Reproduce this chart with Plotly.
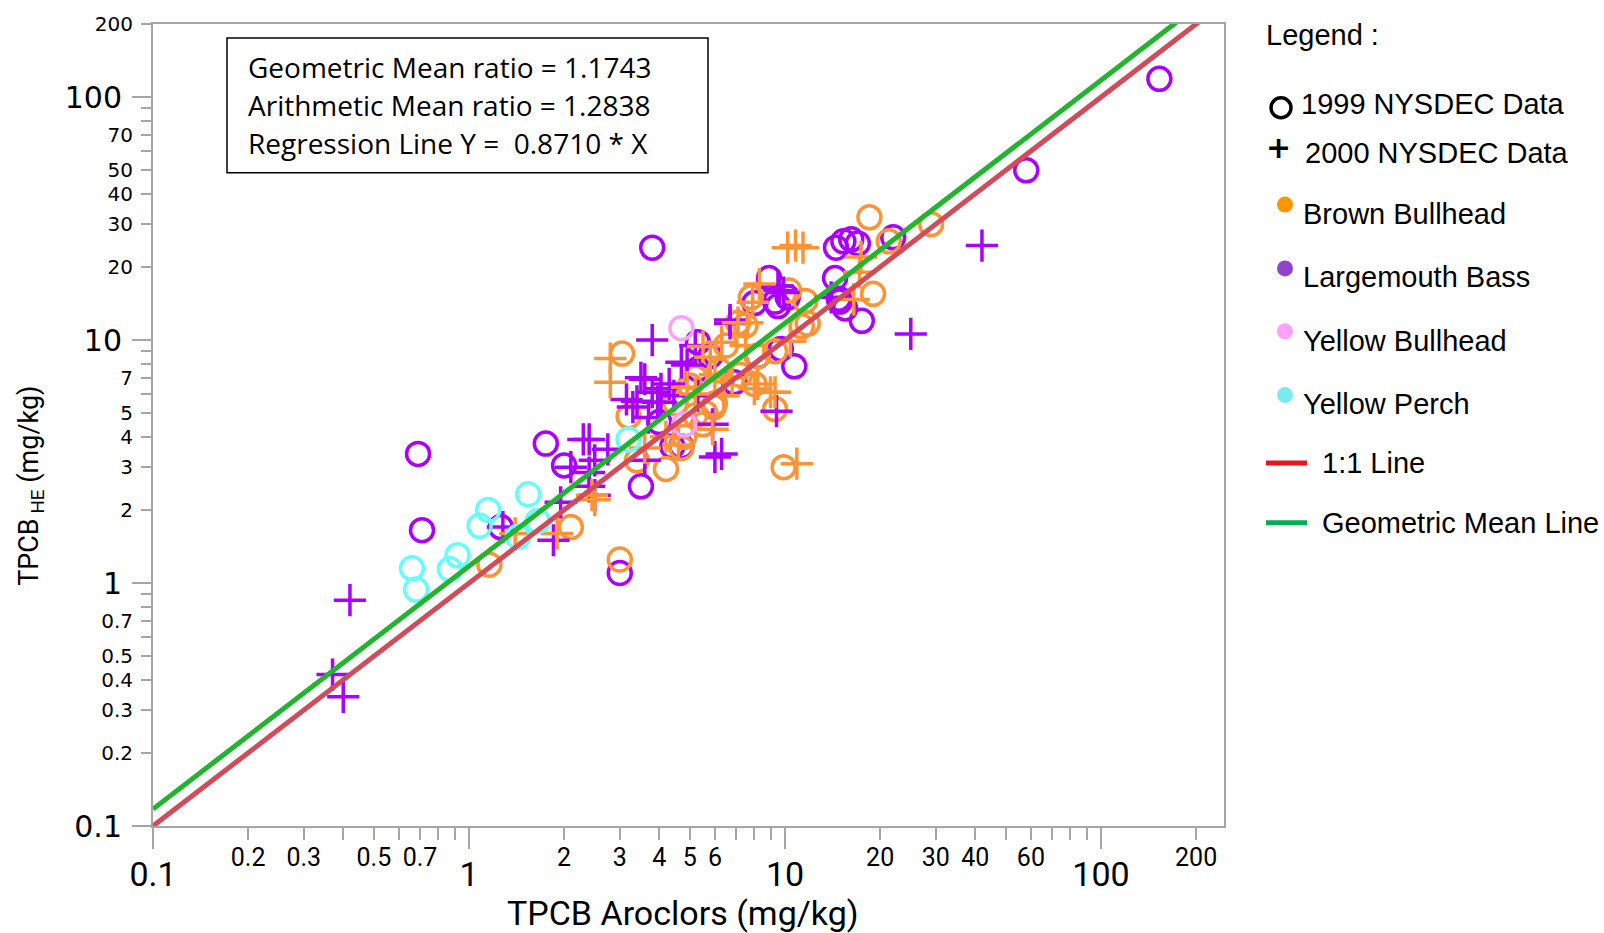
import numpy as np
import plotly.graph_objects as go

# ---------------- data (TPCB Aroclors x, TPCB HE y ; mg/kg) ----------------
bb99_x = [29, 18.5, 19, 11.8, 9.9, 9.3, 3.0, 3.05, 3.2, 3.4, 4.2, 2.1, 1.16, 10.3, 7.8, 7.5, 5.6, 5.95, 11.3, 21.3,
          4.8, 5.2, 7.1, 9.3, 8.0, 8.2, 4.7, 6.2, 11.6, 5.0, 5.5, 6.5, 7.2, 5.2, 4.5, 6.0]
bb99_y = [30, 32, 15.5, 11.7, 3.0, 5.2, 1.25, 8.8, 4.85, 3.2, 2.95, 1.7, 1.19, 16, 15, 11.5, 5.0, 5.3, 11.4, 25.5,
          4.0, 4.9, 11.8, 9.0, 6.6, 8.6, 3.6, 7.5, 14.5, 6.5, 4.5, 9.5, 7.2, 7.0, 5.5, 5.5]

bb00_x = [10.2, 10.8, 11.4, 10.9, 2.8, 2.8, 8.3, 7.9, 5.5, 4.6, 2.45, 1.4, 2.5, 5.9, 7.1, 9.3, 10.4, 6.3, 8.2, 6.4,
          16.5, 17.2, 17.4, 8.0, 7.6, 9.0, 5.2, 6.8, 4.2, 3.6, 1.9, 5.8, 4.9, 7.5, 6.0]
bb00_y = [24, 24.5, 24, 3.1, 8.4, 6.7, 17, 14.3, 9.4, 3.7, 2.3, 1.6, 2.2, 4.3, 11.8, 6.1, 9.9, 9.8, 6.6, 5.9,
          14.7, 19, 22, 6.3, 11.8, 6.1, 6.0, 7.0, 4.0, 3.6, 1.6, 8.5, 6.4, 9.5, 7.2]

lb99_x = [153, 58, 3.8, 0.69, 0.71, 3.0, 3.5, 1.75, 2.0, 1.26, 17.5, 10.7, 22, 14.5, 15.3, 16.2, 17, 14.4, 14.8, 8.9,
          9.3, 10.2, 14.9, 5.3, 9.7, 5.8, 6.9, 4.4, 4.0, 4.7, 5.3, 8.2, 8.0, 9.5, 15.5]
lb99_y = [119, 50, 24, 3.4, 1.65, 1.1, 2.5, 3.75, 3.05, 1.7, 12, 7.8, 26.5, 24, 25.5, 26, 25, 18, 14.8, 18,
          14.4, 15, 14.4, 9.8, 9.2, 8.6, 6.7, 3.65, 4.6, 3.65, 7.6, 8.6, 14.2, 13.8, 13.5]

lb00_x = [42, 25, 0.42, 0.40, 0.37, 3.8, 3.5, 6.3, 9.4, 2.3, 1.85, 2.5, 2.75, 9.6, 14, 6.7, 4.7, 3.8, 4.05, 3.3,
          4.45, 9.9, 5.9, 3.6, 3.4, 3.95, 3.15, 4.05, 4.9, 5.3, 2.5, 3.6, 2.1, 2.4, 2.4, 1.28, 1.95, 2.4, 9.5, 6.7,
          5.2, 6.0, 4.3, 3.7]
lb00_y = [24.5, 10.6, 0.85, 0.34, 0.42, 10, 7, 3.4, 5.1, 3.9, 1.5, 2.3, 3.55, 16, 15, 11.7, 8.1, 6.1, 5.55, 5.3,
          5.9, 15.7, 4.5, 6.9, 5.6, 5.55, 5.7, 6.3, 7.9, 5.9, 3.2, 3.2, 3.0, 2.5, 2.85, 1.7, 2.15, 3.9, 16.7, 12.1,
          9.5, 3.3, 6.6, 4.8]

yb99_x = [4.7, 4.8]
yb99_y = [11.2, 4.5]

yp99_x = [0.66, 0.68, 0.87, 0.92, 1.08, 1.15, 1.43, 1.54, 1.65, 3.2]
yp99_y = [1.15, 0.94, 1.14, 1.3, 1.72, 2.0, 1.55, 2.32, 1.8, 3.9]

geo_mean_ratio = 1.1743
arith_mean_ratio = 1.2838
regression_slope = 0.8710
line_x = [0.1, 250]

x_major = [0.1, 1, 10, 100]
x_major_text = ["0.1", "1", "10", "100"]
x_minor_lab = [0.2, 0.3, 0.5, 0.7, 2, 3, 4, 5, 6, 20, 30, 40, 60, 200]
x_minor_text = ["0.2", "0.3", "0.5", "0.7", "2", "3", "4", "5", "6", "20", "30", "40", "60", "200"]
x_minor_unl = [0.4, 0.6, 0.8, 0.9, 7, 8, 9, 50, 70, 80, 90]

y_major = [0.1, 1, 10, 100]
y_major_text = ["0.1", "1", "10", "100"]
y_minor_lab = [0.2, 0.3, 0.4, 0.5, 0.7, 2, 3, 4, 5, 7, 20, 30, 40, 50, 70, 200]
y_minor_text = ["0.2", "0.3", "0.4", "0.5", "0.7", "2", "3", "4", "5", "7", "20", "30", "40", "50", "70", "200"]
y_minor_unl = [0.6, 0.8, 0.9, 6, 8, 9, 60, 80, 90]

# ---------------- style ----------------
W, H = 1604, 933
ML, MR, MT, MB = 153, 380, 22, 107
PW = W - ML - MR
PH = H - MT - MB
def pxx(p):
    return (p - ML) / PW
def pxy(p):
    return (H - MB - p) / PH

ORANGE = "rgb(255,148,54)"
PURPLE = "rgb(170,0,255)"
PINK = "rgb(255,160,255)"
CYAN = "rgb(102,255,250)"
RED = "rgb(208,76,90)"
GREEN = "rgb(34,180,46)"
GREY = "rgb(166,166,166)"
NARROW = "Roboto, sans-serif"

xr = [-1, np.log10(245)]
yr = [-1, np.log10(200)]

fig = go.Figure()

def add(xs, ys, color, sym):
    if sym == "o":
        m = dict(symbol="circle-open", size=23, color=color, line=dict(width=3.5, color=color))
    else:
        m = dict(symbol="cross-thin-open", size=23, color=color, line=dict(width=3.5, color=color))
    fig.add_trace(go.Scatter(x=xs, y=ys, mode="markers", marker=m, showlegend=False, hoverinfo="x+y"))

add(lb99_x, lb99_y, PURPLE, "o")
add(bb99_x, bb99_y, ORANGE, "o")
add(lb00_x, lb00_y, PURPLE, "+")
add(bb00_x, bb00_y, ORANGE, "+")
add(yb99_x, yb99_y, PINK, "o")
add(yp99_x, yp99_y, CYAN, "o")

lx = np.array(line_x)
fig.add_trace(go.Scatter(x=lx, y=lx, mode="lines", line=dict(color=RED, width=5),
                         xaxis="x2", yaxis="y2", showlegend=False))
fig.add_trace(go.Scatter(x=lx, y=geo_mean_ratio * lx, mode="lines", line=dict(color=GREEN, width=5),
                         xaxis="x2", yaxis="y2", showlegend=False))

common = dict(type="log", showgrid=False, zeroline=False, ticks="outside", tickwidth=2, tickcolor=GREY)

fig.update_layout(
    width=W, height=H,
    margin=dict(l=ML, r=MR, t=MT, b=MB),
    paper_bgcolor="white", plot_bgcolor="white",
    xaxis=dict(**common, range=xr, tickmode="array", tickvals=x_minor_lab, ticktext=x_minor_text,
               ticklen=12, ticklabelstandoff=-4,
               tickfont=dict(family=NARROW, size=25, color="black"),
               minor=dict(tickmode="array", tickvals=x_minor_unl, ticks="outside", ticklen=12, tickwidth=2,
                          tickcolor=GREY, showgrid=False),
               showline=True, mirror=True, linecolor=GREY, linewidth=2),
    yaxis=dict(**common, range=yr, tickmode="array", tickvals=y_minor_lab, ticktext=y_minor_text,
               ticklen=10, ticklabelstandoff=4,
               tickfont=dict(family="DejaVu Sans", size=20, color="black"),
               minor=dict(tickmode="array", tickvals=y_minor_unl, ticks="outside", ticklen=10, tickwidth=2,
                          tickcolor=GREY, showgrid=False),
               showline=True, mirror=True, linecolor=GREY, linewidth=2),
    xaxis2=dict(**common, range=xr, overlaying="x", anchor="y", side="bottom", tickmode="array",
                tickvals=x_major, ticktext=x_major_text, ticklen=22, ticklabelstandoff=-4,
                tickfont=dict(family=NARROW, size=34, color="black"), showline=False),
    yaxis2=dict(**common, range=yr, overlaying="y", anchor="x", side="left", tickmode="array",
                tickvals=y_major, ticktext=y_major_text, ticklen=20, ticklabelstandoff=4,
                tickfont=dict(family="DejaVu Sans", size=30, color="black"), showline=False),
)

# axis titles
fig.add_annotation(xref="paper", yref="paper", x=pxx(683), y=pxy(913), text="TPCB Aroclors (mg/kg)",
                   xanchor="center", yanchor="middle",
                   showarrow=False, font=dict(family=NARROW, size=34, color="black"))
fig.add_annotation(xref="paper", yref="paper", x=pxx(31), y=pxy(485), text="TPCB<sub> HE</sub> (mg/kg)",
                   xanchor="center", yanchor="middle",
                   textangle=-90, showarrow=False, font=dict(family=NARROW, size=27, color="black"))

# statistics box
fig.add_shape(type="rect", xref="paper", yref="paper", x0=pxx(227), x1=pxx(708), y0=pxy(171), y1=pxy(36),
              line=dict(color="black", width=1.5), fillcolor="white", layer="above")
stats = [f"Geometric Mean ratio = {geo_mean_ratio:.4f}",
         f"Arithmetic Mean ratio = {arith_mean_ratio:.4f}",
         f"Regression Line Y =  {regression_slope:.4f} * X"]
for i, s in enumerate(stats):
    fig.add_annotation(xref="paper", yref="paper", x=pxx(246), y=pxy(65 + 38 * i), text=s.replace("  ", "&nbsp; "),
                       xanchor="left", yanchor="middle", showarrow=False,
                       font=dict(family="Open Sans", size=28, color="black"))

# legend
LF = dict(family="Liberation Sans, Arial", size=29, color="black")
def ltext(x, y, t):
    fig.add_annotation(xref="paper", yref="paper", x=pxx(x), y=pxy(y), text=t, xanchor="left",
                       yanchor="middle", showarrow=False, font=LF)

ltext(1264, 33, "Legend :")
fig.add_shape(type="circle", xref="paper", yref="paper", xsizemode="pixel", ysizemode="pixel",
              xanchor=pxx(1281), yanchor=pxy(106), x0=-10, x1=10, y0=-10, y1=10,
              line=dict(color="black", width=3.5))
ltext(1299, 102, "1999 NYSDEC Data")
fig.add_annotation(xref="paper", yref="paper", x=pxx(1278), y=pxy(146), text="<b>+</b>", showarrow=False,
                   xanchor="center", yanchor="middle",
                   font=dict(family="DejaVu Sans", size=30, color="black"))
ltext(1303, 151, "2000 NYSDEC Data")

legend_dots = [("Brown Bullhead", "rgb(255,150,0)", 203, 212),
               ("Largemouth Bass", "rgb(142,68,204)", 267, 276),
               ("Yellow Bullhead", "rgb(255,160,255)", 330, 340),
               ("Yellow Perch", "rgb(120,235,240)", 394, 403)]
for name, col, dy, ty in legend_dots:
    fig.add_shape(type="circle", xref="paper", yref="paper", xsizemode="pixel", ysizemode="pixel",
                  xanchor=pxx(1285), yanchor=pxy(dy), x0=-8, x1=8, y0=-8, y1=8,
                  line=dict(width=0), fillcolor=col)
    ltext(1301, ty, name)

for name, col, y in [("1:1 Line", "rgb(235,20,30)", 462), ("Geometric Mean Line", "rgb(0,176,80)", 522)]:
    fig.add_shape(type="line", xref="paper", yref="paper", x0=pxx(1266), x1=pxx(1307), y0=pxy(y), y1=pxy(y),
                  line=dict(color=col, width=5))
    ltext(1320, y, name)

fig.write_html("out.html")
